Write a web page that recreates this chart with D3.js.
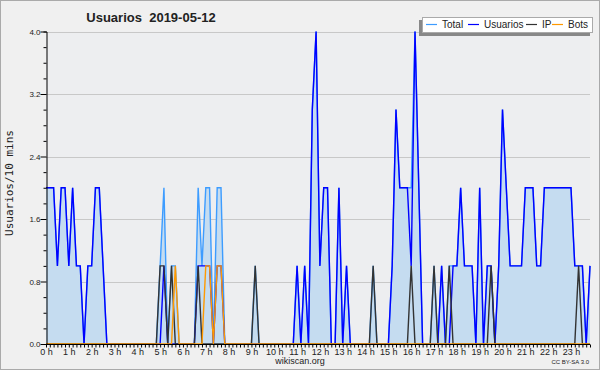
<!doctype HTML>
<html>
<head>
    <style>
        body { margin: 0; background: #f0f0f0; }
        text { font-family: "Liberation Sans", Arial, sans-serif; fill: #222; }
    </style>
    <script src="https://d3js.org/d3.v7.min.js"></script>
</head>
<body>
<script>
    // 10-minute slots, 0:00 .. 23:50
    var total = [2,2,2,1,2,2,1,2,1,1,0,1,1,2,2,1,0,0,0,0,0,0,0,0,
                 0,0,0,0,0,0,1,2,0,1,1,0,0,0,0,0,2,1,2,2,0,2,2,0,
                 0,0,0,0,0,0,0,1,0,0,0,0,0,0,0,0,0,0,1,0,1,0,3,4,
                 1,2,2,0,0,2,0,1,0,0,0,0,0,0,1,0,0,0,0,1,3,2,2,2,
                 2,4,2,0,0,0,1,0,1,0,1,1,1,2,1,1,1,0,2,0,1,1,0,1,
                 3,2,1,1,1,1,2,2,2,1,1,2,2,2,2,2,2,2,2,1,1,1,0,1];
    var usuarios = [2,2,2,1,2,2,1,2,1,1,0,1,1,2,2,1,0,0,0,0,0,0,0,0,
                    0,0,0,0,0,0,0,1,0,0,0,0,0,0,0,0,1,1,1,1,0,1,1,0,
                    0,0,0,0,0,0,0,0,0,0,0,0,0,0,0,0,0,0,1,0,1,0,3,4,
                    1,2,2,0,0,2,0,1,0,0,0,0,0,0,0,0,0,0,0,1,3,2,2,2,
                    1,4,2,0,0,0,0,0,1,0,0,1,1,2,1,1,1,0,2,0,1,1,0,1,
                    3,2,1,1,1,1,2,2,2,1,1,2,2,2,2,2,2,2,2,1,1,1,0,1];
    var ip = [0,0,0,0,0,0,0,0,0,0,0,0,0,0,0,0,0,0,0,0,0,0,0,0,
              0,0,0,0,0,0,1,1,0,1,0,0,0,0,0,0,1,0,0,0,0,0,0,0,
              0,0,0,0,0,0,0,1,0,0,0,0,0,0,0,0,0,0,0,0,0,0,0,0,
              0,0,0,0,0,0,0,0,0,0,0,0,0,0,1,0,0,0,0,0,0,0,0,0,
              1,0,0,0,0,0,1,0,0,0,1,0,0,0,0,0,0,0,0,0,0,1,0,0,
              0,0,0,0,0,0,0,0,0,0,0,0,0,0,0,0,0,0,0,0,1,0,0,0];
    var bots = [0,0,0,0,0,0,0,0,0,0,0,0,0,0,0,0,0,0,0,0,0,0,0,0,
                0,0,0,0,0,0,0,0,0,0,1,0,0,0,0,0,0,0,1,1,0,1,1,0,
                0,0,0,0,0,0,0,0,0,0,0,0,0,0,0,0,0,0,0,0,0,0,0,0,
                0,0,0,0,0,0,0,0,0,0,0,0,0,0,0,0,0,0,0,0,0,0,0,0,
                0,0,0,0,0,0,0,0,0,0,0,0,0,0,0,0,0,0,0,0,0,0,0,0,
                0,0,0,0,0,0,0,0,0,0,0,0,0,0,0,0,0,0,0,0,0,0,0,0];

    var yTicks = [0, 0.8, 1.6, 2.4, 3.2, 4.0];
    var keys = ["Total", "Usuarios", "IP", "Bots"];
    var colors = ["#3d9cff", "#0000ff", "#333333", "#ff9900"];

    var svg = d3.select("body").append("svg")
        .attr("width", 600)
        .attr("height", 370);

    svg.append("rect")
        .attr("x", 0.5).attr("y", 0.5)
        .attr("width", 599).attr("height", 369)
        .attr("fill", "#f0f0f0")
        .attr("stroke", "#aaaaaa");

    var x = d3.scaleLinear().domain([0, 143]).range([46, 590]);
    var y = d3.scaleLinear().domain([0, 4]).range([344, 31.5]);

    svg.append("rect")
        .attr("x", 46).attr("y", 31.5)
        .attr("width", 544).attr("height", 312.5)
        .attr("fill", "#edeef0");

    // grid
    svg.selectAll(".grid")
        .data(yTicks.slice(1))
        .enter()
        .append("line")
            .attr("x1", 46).attr("x2", 590)
            .attr("y1", function(d) { return Math.round(y(d)) + 0.5; })
            .attr("y2", function(d) { return Math.round(y(d)) + 0.5; })
            .attr("stroke", "#c8c8c8");

    // area under total
    var area = d3.area()
        .x(function(d, i) { return x(i); })
        .y0(y(0))
        .y1(function(d) { return y(d); });
    svg.append("path")
        .datum(total)
        .attr("d", area)
        .attr("fill", "#c5dcf0");

    var line = d3.line()
        .x(function(d, i) { return x(i); })
        .y(function(d) { return y(d); });

    [total, usuarios, ip, bots].forEach(function(s, k) {
        svg.append("path")
            .datum(s)
            .attr("d", line)
            .attr("fill", "none")
            .attr("stroke", colors[k])
            .attr("stroke-width", 1.4)
            .attr("stroke-linejoin", "miter");
    });

    // y axis
    var yAxis = svg.append("g")
        .attr("transform", "translate(46.5,0)")
        .call(d3.axisLeft(y)
            .tickValues(d3.range(0, 21).map(function(d) { return d * 0.2; }))
            .tickSize(3)
            .tickFormat(function(d) {
                var k = Math.round(d / 0.2);
                return k % 4 === 0 ? d3.format(".1f")(d) : "";
            }));
    yAxis.select(".domain").attr("stroke", "#000");
    yAxis.selectAll(".tick line")
        .attr("x2", function(d) { return Math.round(d / 0.2) % 4 === 0 ? -6 : -3; })
        .attr("stroke", "#000");
    yAxis.selectAll(".tick text")
        .attr("x", -6)
        .style("font-size", "8px")
        .style("font-family", "Liberation Sans")
        .attr("fill", "#333");

    // x axis
    var xAxis = svg.append("g")
        .attr("transform", "translate(0,344.5)")
        .call(d3.axisBottom(x)
            .tickValues(d3.range(0, 144))
            .tickSize(3)
            .tickFormat(function(d) { return d % 6 === 0 ? (d / 6) + " h" : ""; }));
    xAxis.select(".domain").attr("stroke", "#000").attr("d", "M46,0H590");
    xAxis.selectAll(".tick line").attr("stroke", "#000");
    xAxis.selectAll(".tick text")
        .attr("y", 4)
        .style("font-size", "9px")
        .style("font-family", "Liberation Sans")
        .attr("fill", "#333");

    // title
    svg.append("text")
        .attr("x", 151)
        .attr("y", 22)
        .attr("text-anchor", "middle")
        .style("font-size", "13px")
        .style("font-weight", "bold")
        .text("Usuarios  2019-05-12")
        .attr("xml:space", "preserve");

    svg.append("text")
        .attr("transform", "translate(13,183) rotate(-90)")
        .attr("text-anchor", "middle")
        .style("font-size", "11px")
        .style("font-family", "DejaVu Sans Mono")
        .text("Usuarios/10 mins");

    svg.append("text")
        .attr("x", 300).attr("y", 364)
        .attr("text-anchor", "middle")
        .style("font-size", "9px")
        .attr("fill", "#333")
        .text("wikiscan.org");

    svg.append("text")
        .attr("x", 589).attr("y", 364)
        .attr("text-anchor", "end")
        .style("font-size", "6px")
        .attr("fill", "#333")
        .text("CC BY-SA 3.0");

    // legend
    var lg = svg.append("g");
    lg.append("rect")
        .attr("x", 419).attr("y", 20)
        .attr("width", 171).attr("height", 16)
        .attr("fill", "#888");
    lg.append("rect")
        .attr("x", 422.5).attr("y", 17.5)
        .attr("width", 170).attr("height", 15)
        .attr("fill", "#fff")
        .attr("stroke", "#aaa");
    var lx = [426, 468, 526, 552];
    keys.forEach(function(k, i) {
        lg.append("line")
            .attr("x1", lx[i]).attr("x2", lx[i] + 11)
            .attr("y1", 24.5).attr("y2", 24.5)
            .attr("stroke", colors[i])
            .attr("stroke-width", 1.2);
        lg.append("text")
            .attr("x", lx[i] + 16).attr("y", 28)
            .style("font-size", "10px")
            .text(k);
    });
</script>
</body>
</html>
